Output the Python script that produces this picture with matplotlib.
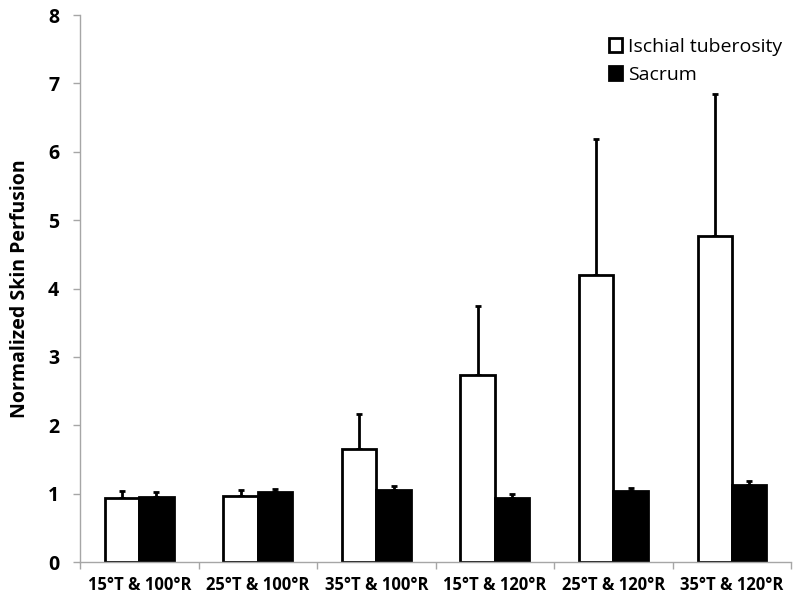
import numpy as np
import matplotlib
matplotlib.use("Agg")
import matplotlib.pyplot as plt
from matplotlib.patches import Patch

plt.rcParams['font.family'] = ['Open Sans', 'DejaVu Sans']

categories = ["15°T & 100°R", "25°T & 100°R", "35°T & 100°R",
              "15°T & 120°R", "25°T & 120°R", "35°T & 120°R"]
ischial = [0.94, 0.965, 1.66, 2.73, 4.20, 4.77]
ischial_top = [1.04, 1.06, 2.16, 3.74, 6.18, 6.85]
sacrum = [0.955, 1.03, 1.05, 0.94, 1.04, 1.12]
sacrum_top = [1.02, 1.07, 1.11, 1.00, 1.09, 1.19]

GRAY = "#a6a6a6"

fig = plt.figure(figsize=(8, 6.02), dpi=100)
ax = fig.add_axes([0.1, 0.0664, 0.889, 0.9086])

x = np.arange(len(categories))
w = 0.29

ax.bar(x - w / 2, ischial, w, color="white", edgecolor="black", linewidth=2, zorder=2)
ax.bar(x + w / 2, sacrum, w, color="black", edgecolor="black", linewidth=2, zorder=2)

# upper error bars only
err_i = np.array(ischial_top) - np.array(ischial)
err_s = np.array(sacrum_top) - np.array(sacrum)
ax.errorbar(x - w / 2, ischial, yerr=[np.zeros(len(x)), err_i], fmt="none",
            ecolor="black", elinewidth=2, capsize=2, capthick=2, zorder=1)
ax.errorbar(x + w / 2, sacrum, yerr=[np.zeros(len(x)), err_s], fmt="none",
            ecolor="black", elinewidth=2, capsize=2, capthick=2, zorder=1)

ax.set_xlim(-0.5, len(categories) - 0.5)
ax.set_ylim(0, 8)
ax.set_yticks(range(0, 9))
ax.set_yticklabels([str(i) for i in range(9)], fontsize=14, fontweight="bold")

ax.set_xticks(x)
ax.set_xticklabels(categories, fontsize=12, fontweight="bold")
ax.set_xticks(np.arange(-0.5, len(categories)), minor=True)
ax.tick_params(axis="x", which="major", length=0, pad=10)
ax.tick_params(axis="x", which="minor", length=5, color=GRAY, width=1)
ax.tick_params(axis="y", length=5, color=GRAY, width=1, pad=10)

for s in ["top", "right"]:
    ax.spines[s].set_visible(False)
for s in ["left", "bottom"]:
    ax.spines[s].set_color(GRAY)
    ax.spines[s].set_linewidth(1)

ax.set_ylabel("Normalized Skin Perfusion", fontsize=14, fontweight="bold", labelpad=13)

handles = [Patch(facecolor="white", edgecolor="black", linewidth=2, label="Ischial tuberosity"),
           Patch(facecolor="black", edgecolor="black", linewidth=2, label="Sacrum")]
ax.legend(handles=handles, loc="upper right", bbox_to_anchor=(1.012, 0.99), frameon=False,
          fontsize=14, handlelength=0.7, handleheight=0.7, handletextpad=0.3,
          labelspacing=0.5)

fig.savefig("out.png", dpi=100)
